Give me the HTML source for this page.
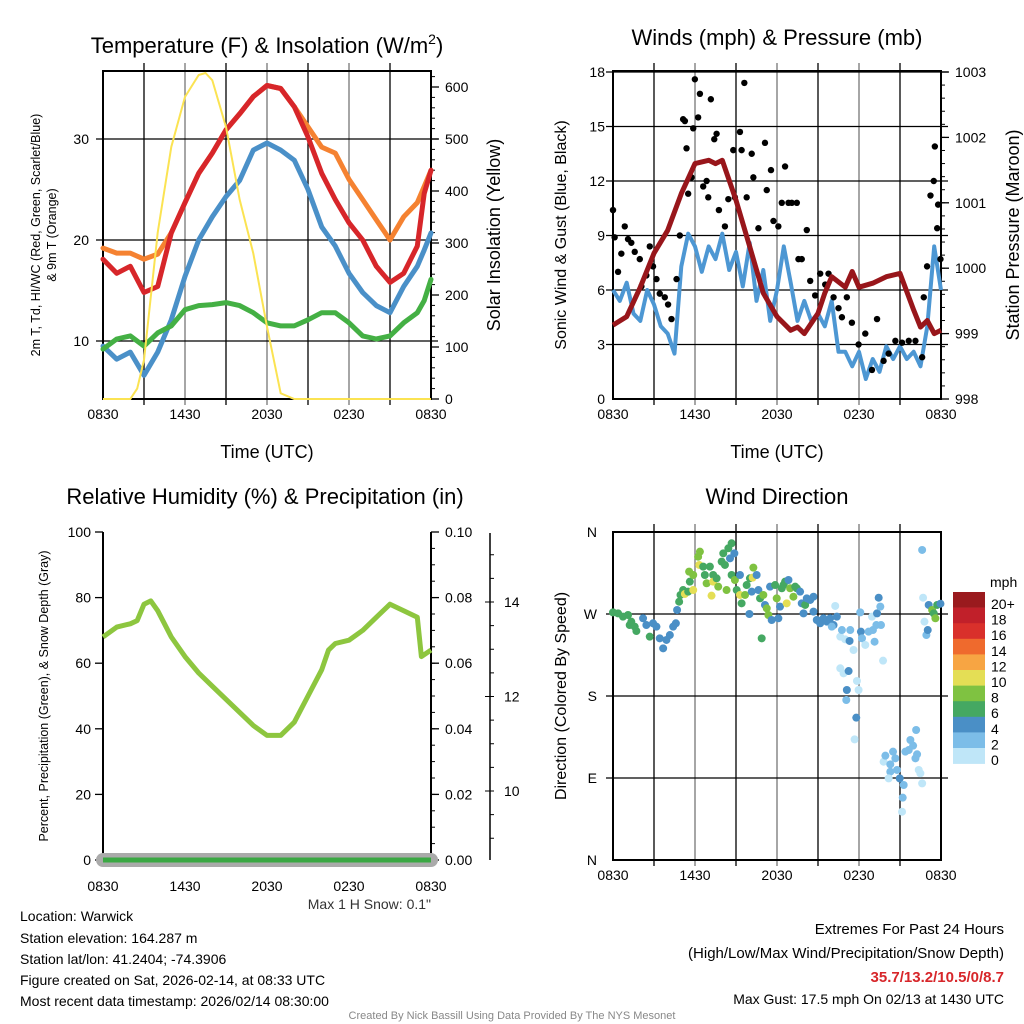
<!DOCTYPE html>
<html><head><meta charset="utf-8">
<style>
body{margin:0;background:#fff;}
svg{display:block;font-family:"Liberation Sans",sans-serif;}
</style></head>
<body>
<svg id="root" width="1024" height="1024" viewBox="0 0 1024 1024" xmlns="http://www.w3.org/2000/svg">
<rect width="1024" height="1024" fill="#fff"/>
<g id="g1"></g>
<g id="g2"></g>
<g id="g3"></g>
<g id="g4"></g>
<g id="txt" font-size="14" fill="#000">
<text x="20" y="921">Location: Warwick</text>
<text x="20" y="943">Station elevation: 164.287 m</text>
<text x="20" y="964">Station lat/lon: 41.2404; -74.3906</text>
<text x="20" y="985">Figure created on Sat, 2026-02-14, at 08:33 UTC</text>
<text x="20" y="1006">Most recent data timestamp: 2026/02/14 08:30:00</text>
<text x="1004" y="934" text-anchor="end" font-size="15">Extremes For Past 24 Hours</text>
<text x="1004" y="958" text-anchor="end" font-size="15">(High/Low/Max Wind/Precipitation/Snow Depth)</text>
<text x="1004" y="982" text-anchor="end" font-size="15" font-weight="bold" fill="#d7262a">35.7/13.2/10.5/0/8.7</text>
<text x="1004" y="1004" text-anchor="end" font-size="14">Max Gust: 17.5 mph On 02/13 at 1430 UTC</text>
<text x="431" y="909" text-anchor="end" font-size="14" fill="#333">Max 1 H Snow: 0.1"</text>
<text x="512" y="1019" text-anchor="middle" font-size="11" fill="#888">Created By Nick Bassill Using Data Provided By The NYS Mesonet</text>
</g>
</svg>
<script>
// ---- data ----
const xTicks = ["0830","1430","2030","0230","0830"];
const tHours = [0,1,2,3,4,5,6,7,8,9,10,11,12,13,14,15,16,17,18,19,20,21,22,23,23.5,24];
const tempRed = [18.1,16.7,17.4,14.8,15.4,20.7,23.7,26.6,28.6,30.9,32.5,34.2,35.3,35.0,33.2,30.2,26.6,24.0,21.7,20.0,17.4,15.8,16.7,19.4,24.6,26.9];
const temp9m = [19.2,18.7,18.7,18.1,18.6,20.7,23.7,26.6,28.6,30.9,32.5,34.2,35.3,35.0,33.2,31.2,29.2,28.6,26.0,24.0,22.0,20.0,22.3,23.7,25.3,26.9];
const windChill = [9.5,8.2,8.9,6.6,8.9,12.1,16.4,20.0,22.3,24.3,25.9,28.9,29.6,28.9,27.9,25.0,21.3,19.4,16.7,14.8,13.5,12.8,15.4,17.4,19.0,20.7];
const dewPoint = [9.2,10.2,10.5,9.5,10.8,11.5,13.1,13.5,13.6,13.8,13.5,12.8,11.8,11.5,11.5,12.1,12.8,12.8,11.8,10.5,10.2,10.5,11.8,12.8,14.0,16.1];
const solarHours = [0,2,2.5,3,4,5,6,7,7.5,8,9,10,11,12,13,14,24];
const solar = [0,0,20,75,320,485,581,623,627,613,523,383,280,139,11,0,0];
const tempTicks = [10,20,30];
const solarTicks = [0,100,200,300,400,500,600];

const wHours = [0,0.5,1,1.5,2,2.5,3,3.5,4,4.5,5,5.5,6,6.5,7,7.5,8,8.5,9,9.5,10,10.5,11,11.5,12,12.5,13,13.5,14,14.5,15,15.5,16,16.5,17,17.5,18,18.5,19,19.5,20,20.5,21,21.5,22,22.5,23,23.5,24];
const windSpd = [6.0,5.4,6.4,4.7,4.3,6.0,5.2,4.0,3.6,2.5,7.3,9.1,8.4,7.0,8.4,7.7,9.1,7.1,8.1,6.2,8.6,5.4,7.1,4.3,6.0,8.4,6.4,4.3,5.4,4.3,4.7,4.0,5.4,2.6,2.6,1.8,2.6,1.1,2.2,1.5,2.9,2.2,2.9,2.2,2.6,1.8,4.0,8.4,6.0];
const pHours = [0,1,2,3,4,5,6,7,7.5,8,9,10,11,12,13,13.5,14,15,15.5,16,17,17.5,18,19,20,21,22,22.5,23,23.5,24];
const pressure = [999.13,999.26,999.71,1000.23,1000.58,1001.14,1001.6,1001.65,1001.6,1001.65,1001.04,1000.33,999.62,999.26,999.05,999.1,999.0,999.31,999.62,999.87,999.71,999.95,999.71,999.77,999.87,999.92,999.36,999.1,999.2,999.0,999.05];
const gustHours = [0,0.12,0.37,0.61,0.86,1.1,1.34,1.59,1.96,2.08,2.44,2.69,2.93,3.18,3.42,3.79,4.03,4.28,4.65,4.89,5.13,5.26,5.38,5.5,5.75,5.87,5.99,6.23,6.36,6.6,6.85,6.97,7.16,7.41,7.58,7.75,8.19,8.44,8.8,8.92,9.29,9.41,9.61,9.78,10.15,10.27,10.64,11.12,11.25,11.56,11.74,12.1,12.35,12.59,12.84,13.08,13.45,13.57,13.81,14.18,14.43,14.79,15.16,15.53,15.77,16.14,16.5,16.75,17.11,17.48,17.97,18.46,18.95,19.32,19.8,20.17,20.66,21.15,21.64,22.13,22.62,22.74,22.98,23.23,23.47,23.55,23.72,23.79,23.96];
const gustSpd = [10.4,8.9,7.0,8.0,9.5,8.8,8.6,8.1,7.7,6.2,6.8,8.4,7.3,6.6,5.8,5.6,5.2,4.4,6.6,9.0,15.4,15.3,13.8,11.3,12.2,14.9,17.6,15.5,16.8,11.7,12.0,11.1,16.5,14.3,14.6,10.4,9.5,11.0,13.7,11.1,14.7,13.7,17.4,11.1,13.5,12.2,9.4,14.1,11.5,12.6,9.8,9.5,10.8,12.8,10.8,10.8,10.8,7.7,7.7,9.3,6.5,5.7,6.9,6.3,6.9,5.6,5.0,4.5,5.6,4.2,3.0,3.6,1.6,4.4,2.1,2.5,3.2,3.1,3.2,3.2,2.3,5.6,7.3,11.2,12.0,13.9,9.4,10.7,7.7];
const windTicks = [0,3,6,9,12,15,18];
const presTicks = [998,999,1000,1001,1002,1003];

const rhHours = [0,1,2,2.5,3,3.5,4,4.5,5,6,7,8,9,10,11,12,13,14,15,16,16.5,17,18,19,20,21,22,23,23.3,24];
const rh = [68,71,72,73,78,79,76,72,68,62,57,53,49,45,41,38,38,42,50,58,64,66,67,70,74,78,76,74,62,64];
const precipHours = [0,24];
const precip = [0,0];
const snowHours = [0,24];
const snowDepth = [0,0];
const rhTicks = [0,20,40,60,80,100];
const precipTicks = ["0.00","0.02","0.04","0.06","0.08","0.10"];
const snowTicks = [10,12,14];

const wdHour = [0,0.37,0.73,1.1,1.22,1.34,1.59,1.71,2.2,2.44,2.93,3.18,2.69,3.42,3.67,3.91,4.16,4.4,4.6,4.69,4.84,4.94,5.13,5.26,5.5,5.62,5.57,5.87,5.87,6.23,6.36,6.31,6.6,6.72,6.85,7.09,7.21,7.33,7.33,7.58,7.7,7.95,8.07,8.19,8.44,8.68,8.56,8.88,8.31,8.68,8.92,9.05,9.29,9.29,9.41,9.66,9.78,10.02,10.22,10.27,10.51,9.98,10.15,10.64,10.76,10.88,11,11.12,11.25,11.37,11.49,11.61,11.86,11.98,12.1,12.22,12.35,12.47,12.59,12.71,12.84,12.96,13.2,13.33,13.45,13.69,13.81,13.94,14.06,14.18,14.43,14.67,14.67,14.91,15.16,15.4,15.65,15.89,16.14,16.38,16.01,16.26,16.63,16.75,16.99,17.36,17.31,17.6,18.09,18.14,18.22,18.46,18.7,18.95,19.02,19.14,19.27,19.32,19.44,19.56,19.61,19.76,16.63,16.87,17.24,17.11,17.07,17.85,17.97,17.8,17.68,19.8,19.93,20.29,20.49,20.66,20.78,20.29,20.17,20.98,21.27,21.2,21.15,21.39,21.64,21.76,21.96,22.18,22.13,22.25,22.37,22.49,22.62,22.62,22.69,22.79,22.93,23.03,23.1,23.35,23.47,23.59,23.72,23.96];
const wdDeg = [271.8,270.7,267.1,268.9,257.9,261.6,256.1,251.3,265.3,257.9,259.8,256.1,245.1,243.3,232.3,241.5,246.9,256.1,259.8,274.4,283.5,290.9,296.3,292,294.5,305.5,316.5,312.8,296.3,332.9,338.4,323.8,322,312.8,303.7,322,290.1,312.8,305.5,309.2,300,327.5,336.6,323.8,342.1,347.6,331.1,336.6,296.3,312.8,307.3,296.3,312.8,290.9,281.7,290.9,301.8,309.2,309.9,320.9,312.8,270,294.5,296.3,287.2,243.3,290.9,279.9,276.2,268.9,300,263.4,301.8,287.2,265.3,278.1,298.2,301.8,305.5,281.7,307.3,298.2,289,300,298.2,294.5,281.7,270.7,279.9,287.2,285.4,289,272.6,263.4,259.8,265.3,261.6,265.3,257.9,267.1,256.1,278.8,245.1,252.4,242.2,252.4,240.4,230.5,271.8,250.6,243.3,236,250.6,267.1,252.4,239.6,257.9,270.7,287.9,278.1,257.9,218.8,210.4,204.9,207.4,186.6,175.6,196.5,186.6,156.2,132.4,107.9,114.5,105,118.9,111.6,98.8,96.9,89.6,89.6,82.3,68.4,53,118.9,120.7,131.7,125.5,142.7,111.6,116,98.8,95.1,84.1,340.3,287.9,261.6,246.9,252.4,279.9,274.4,270.7,265.3,279.9,281.3];
const wdSpd = [6,6,6,6,6,6,6,6,5,4.5,5,4.5,6.5,4.5,4.5,4.5,5,4.5,4.5,4.5,6.5,6.5,7.5,10.5,6.5,6.5,8.5,8.5,10.5,8.5,8.5,10.5,6.5,6.5,8.5,7.5,10.5,7.5,10.5,6.5,8.5,6.5,6.5,6.5,6.5,6.5,4.5,4.5,8.5,6.5,8.5,6.5,4.5,10.5,6.5,8.5,6.5,6.5,10.5,8.5,4.5,4.5,4.5,4.5,6.5,6.5,8.5,4.5,8.5,8.5,4.5,4.5,6.5,8.5,4.5,4.5,6.5,6.5,6.5,10.5,4.5,8.5,8.5,6.5,6.5,4.5,4.5,4.5,6.5,4.5,4.5,4.5,4.5,4.5,4.5,4.5,4.5,4.5,4.5,4.5,3,1,1,3,1,3,4.5,1,3,4.5,3,1,3,1,3,3,3,4.5,4.5,3,3,1,1,1,4.5,4.5,3,1,1,4.5,1,1,3,3,3,3,3,3,1,4.5,3,3,1,3,3,3,3,3,3,3,1,1,1,3,1,1,3,4.5,4.5,8.5,6.5,8.5,6.5,4.5];
const dirTicks = ["N","W","S","E","N"];
const mphLabels = ["20+","18","16","14","12","10","8","6","4","2","0"];
const mphColors = ["#9a1a1e","#c1202a","#d9302b","#ef6a2d","#f7a543","#e4de55","#7fc241","#45a862","#4a8fc6","#7cbde8","#bfe6f8"];

// ---- helpers ----
const NS = "http://www.w3.org/2000/svg";
function mk(parent, tag, attrs, text){
  const e = document.createElementNS(NS, tag);
  for (const k in attrs) e.setAttribute(k, attrs[k]);
  if (text !== undefined) e.textContent = text;
  parent.appendChild(e);
  return e;
}
function lin(d0,d1,r0,r1){ return v => r0 + (v-d0)*(r1-r0)/(d1-d0); }
function pathOf(xs, ys, fx, fy){ return xs.map((x,i)=>(i?"L":"M")+fx(x).toFixed(1)+","+fy(ys[i]).toFixed(1)).join(""); }
function frame(g, x0,y0,x1,y1, vgrid, hgridYs){
  if (vgrid) for (let k=1;k<8;k++){ const x=x0+k*(x1-x0)/8;
    const l=mk(g,"line",{x1:x,y1:y0-8,x2:x,y2:y1+6,stroke:k%2?"#000":"#777","stroke-width":1.3});
    
     }
  hgridYs.forEach(y=>{ const l=mk(g,"line",{x1:x0-7,y1:y,x2:x1+7,y2:y,stroke:"#000","stroke-width":1.3});
    
     });
  const r=mk(g,"rect",{x:x0,y:y0,width:x1-x0,height:y1-y0,fill:"none",stroke:"#000","stroke-width":2});
  
  
  xTicks.forEach((t,i)=>{ const tx=mk(g,"text",{x:x0+i*(x1-x0)/4,y:y1+20,"text-anchor":"middle","font-size":14},t);
    
     });
}
function title(g,x,y,s,txt,name){ const t=mk(g,"text",{x:x,y:y,"text-anchor":"middle","font-size":s},txt);
  
   return t; }
function vtitle(g,x,y,s,txt,name){ const t=mk(g,"text",{x:x,y:y,"text-anchor":"middle","font-size":s,transform:`rotate(-90 ${x} ${y})`},txt);
  
   return t; }
function rightTicks(g,x,ys,labels,y0,y1,minorStep){
  if (minorStep) for (let y=y1; y>=y0-0.5; y-=minorStep){ const l=mk(g,"line",{x1:x,y1:y,x2:x+4,y2:y,stroke:"#000","stroke-width":1});
    
     }
  ys.forEach((y,i)=>{ const l=mk(g,"line",{x1:x,y1:y,x2:x+8,y2:y,stroke:"#000","stroke-width":1.3});
    
    
    const t=mk(g,"text",{x:x+14,y:y+5,"font-size":14},labels[i]);
    
     });
}
function leftLabels(g,x,ys,labels){
  ys.forEach((y,i)=>{ const t=mk(g,"text",{x:x-12,y:y+5,"font-size":14,"text-anchor":"end"},labels[i]);
    
     });
}

// ---- Panel 1: Temperature ----
(function(){
  const g=document.getElementById("g1");
  const X0=103,X1=431,Y0=71,Y1=399;
  const fx=lin(0,24,X0,X1), fy=lin(10,30,341,139), fs=lin(0,600,399,87);
  frame(g,X0,Y0,X1,Y1,true,tempTicks.map(fy));
  leftLabels(g,X0-2,tempTicks.map(fy),tempTicks);
  rightTicks(g,X1,solarTicks.map(fs),solarTicks,Y0,Y1,10.4);
  const series=[[temp9m,"#f58231","temp-9m-line"],[tempRed,"#d7262a","temperature-line"],[windChill,"#4a90c8","windchill-line"],[dewPoint,"#44b044","dewpoint-line"]];
  series.forEach(s=>{ const p=mk(g,"path",{d:pathOf(tHours,s[0],fx,fy),fill:"none",stroke:s[1],"stroke-width":5,"stroke-linejoin":"round","stroke-linecap":"round"});
    
     });
  const sp=mk(g,"path",{d:pathOf(solarHours,solar,fx,fs),fill:"none",stroke:"#fbe352","stroke-width":2});
  
  
  const tt=title(g,267,53,22,"","chart-title-temperature");
  tt.innerHTML='Temperature (F) &amp; Insolation (W/m<tspan font-size="14" dy="-9">2</tspan><tspan dy="9">)</tspan>';
  title(g,267,458,18,"Time (UTC)","x-axis-title");
  vtitle(g,40,235,12.5,"2m T, Td, HI/WC (Red, Green, Scarlet/Blue)","y-axis-title-left");
  vtitle(g,56,235,12.5,"& 9m T (Orange)","y-axis-title-left-2");
  vtitle(g,500,235,18,"Solar Insolation (Yellow)","y-axis-title-right");
})();

// ---- Panel 2: Winds ----
(function(){
  const g=document.getElementById("g2");
  const X0=613,X1=941,Y0=71,Y1=399;
  const fx=lin(0,24,X0,X1), fy=lin(0,18,399,72), fp=lin(998,1003,399,72);
  frame(g,X0,Y0,X1,Y1,true,windTicks.slice(1).map(fy));
  leftLabels(g,X0+4,windTicks.map(fy),windTicks);
  rightTicks(g,X1,presTicks.map(fp),presTicks,Y0,Y1,13.08);
  const wl=mk(g,"path",{d:pathOf(wHours,windSpd,fx,fy),fill:"none",stroke:"#4d97d3","stroke-width":4,"stroke-linejoin":"round"});
  
  
  gustHours.forEach((h,i)=>{ const c=mk(g,"circle",{cx:fx(h),cy:fy(gustSpd[i]),r:3.2,fill:"#000"});
    
     });
  const pl=mk(g,"path",{d:pathOf(pHours,pressure,fx,fp),fill:"none",stroke:"#98161b","stroke-width":5,"stroke-linejoin":"round"});
  
  
  title(g,777,45,22,"Winds (mph) & Pressure (mb)","chart-title-winds");
  title(g,777,458,18,"Time (UTC)","x-axis-title");
  vtitle(g,566,235,16,"Sonic Wind & Gust (Blue, Black)","y-axis-title-left");
  vtitle(g,1019,235,18,"Station Pressure (Maroon)","y-axis-title-right");
})();

// ---- Panel 3: Humidity ----
(function(){
  const g=document.getElementById("g3");
  const X0=103,X1=431,Y0=532,Y1=860;
  const fx=lin(0,24,X0,X1), fy=lin(0,100,860,532), fpr=lin(0,0.1,860,532), fsn=lin(10,14,791,602);
  const ax=mk(g,"path",{d:`M${X0},${Y0}V${Y1}H${X1}V${Y0}`,fill:"none",stroke:"#000","stroke-width":2});
  
  
  xTicks.forEach((t,i)=>{ const tx=mk(g,"text",{x:X0+i*(X1-X0)/4,y:Y1+31,"text-anchor":"middle","font-size":14},t);
    
     });
  rhTicks.forEach(v=>{ const l=mk(g,"line",{x1:X0-8,y1:fy(v),x2:X0,y2:fy(v),stroke:"#000","stroke-width":1.3});
    
     });
  leftLabels(g,X0,rhTicks.map(fy),rhTicks);
  rightTicks(g,X1,precipTicks.map(v=>fpr(+v)),precipTicks,Y0,Y1,16.4);
  const sx=490;
  const sl=mk(g,"line",{x1:sx,y1:Y0+1,x2:sx,y2:Y1,stroke:"#000","stroke-width":1.5});
  
  
  for (let v=8.5; v<=16.5; v+=0.5){ const y=fsn(v); if (y<Y0||y>Y1) continue;
    const major = Math.abs(v-Math.round(v/2)*2)<0.01;
    const l=mk(g,"line",{x1:major?sx-5:sx,y1:y,x2:sx+4,y2:y,stroke:"#000","stroke-width":1});
    
     }
  snowTicks.forEach(v=>{ const t=mk(g,"text",{x:sx+14,y:fsn(v)+5,"font-size":14},v);
    
     });
  const sd=mk(g,"path",{d:pathOf(snowHours,snowDepth,fx,fpr),fill:"none",stroke:"#aaa","stroke-width":14,"stroke-linecap":"round"});
  
  
  const pr=mk(g,"path",{d:pathOf(precipHours,precip,fx,fpr),fill:"none",stroke:"#3aa843","stroke-width":5});
  
  
  const rl=mk(g,"path",{d:pathOf(rhHours,rh,fx,fy),fill:"none",stroke:"#8dc63f","stroke-width":5,"stroke-linejoin":"round"});
  
  
  title(g,265,504,22,"Relative Humidity (%) & Precipitation (in)","chart-title-humidity");
  vtitle(g,48,696,12.5,"Percent, Precipitation (Green), & Snow Depth (Gray)","y-axis-title-left");
})();

// ---- Panel 4: Wind direction ----
(function(){
  const g=document.getElementById("g4");
  const X0=613,X1=941,Y0=532,Y1=860;
  const fx=lin(0,24,X0,X1), fy=lin(0,360,860,532);
  frame(g,X0,Y0,X1,Y1,true,[90,180,270].map(fy));
  leftLabels(g,X0-4,[360,270,180,90,0].map(fy),dirTicks);
  wdHour.forEach((h,i)=>{ const b=Math.max(0,Math.min(10,Math.floor(wdSpd[i]/2)));
    const c=mk(g,"circle",{cx:fx(h),cy:fy(wdDeg[i]),r:4,fill:mphColors[10-b]});
    
     });
  const bh=15.6, by=592;
  mphLabels.forEach((lab,i)=>{ const r=mk(g,"rect",{x:953,y:by+i*bh,width:32,height:bh+0.3,fill:mphColors[i]});
    
    
    const t=mk(g,"text",{x:991,y:by+i*bh+17,"font-size":14},lab);
    
     });
  const mt=mk(g,"text",{x:990,y:587,"font-size":14},"mph");
  
  
  title(g,777,504,22,"Wind Direction","chart-title-wind-direction");
  vtitle(g,566,696,16,"Direction (Colored By Speed)","y-axis-title-left");
})();
</script>
</body></html>
